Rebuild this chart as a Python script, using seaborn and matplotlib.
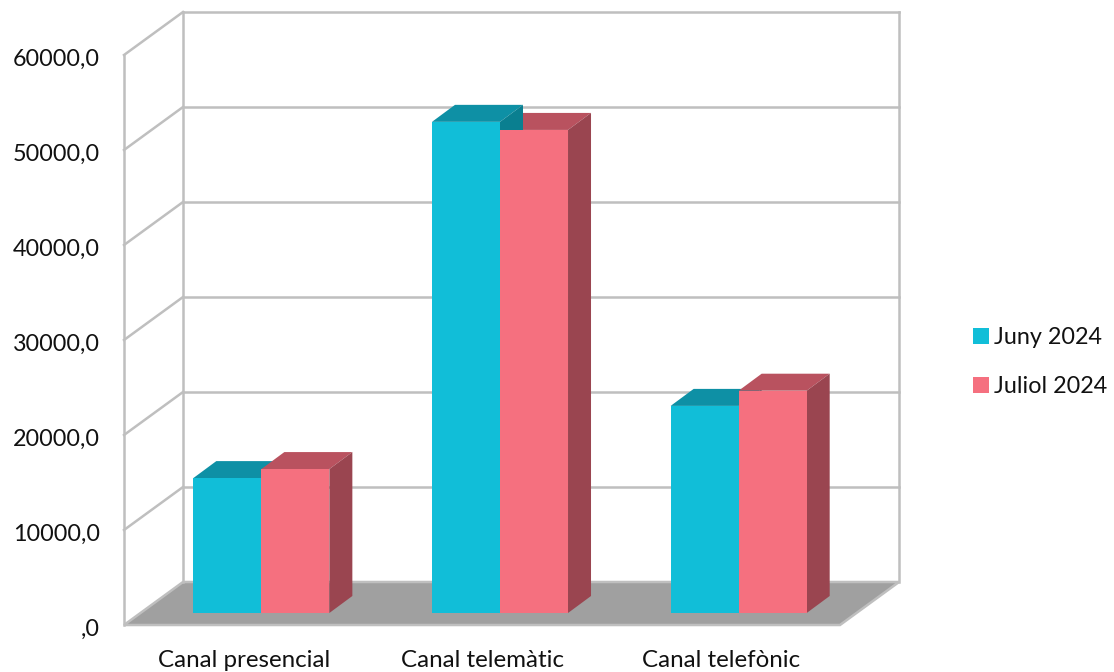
import matplotlib
matplotlib.use('Agg')
import matplotlib.pyplot as plt
from matplotlib.patches import Patch, Polygon
from matplotlib.transforms import ScaledTranslation
import pandas as pd
import seaborn as sns

categories = ['Canal presencial', 'Canal telemàtic', 'Canal telefònic']
juny = [14200, 51700, 21800]
juliol = [15150, 50850, 23400]
series_names = ['Juny 2024', 'Juliol 2024']
y_ticks = [0, 10000, 20000, 30000, 40000, 50000, 60000]
y_labels = [',0', '10000,0', '20000,0', '30000,0', '40000,0', '50000,0', '60000,0']

front_colors = ['#11BED8', '#F5707F']
top_colors = ['#0E90A5', '#B9525F']
side_colors = ['#0A7F90', '#9A4550']
grid_color = '#BFBFBF'

sns.set_theme(style='white')
plt.rcParams['font.family'] = ['Lato', 'DejaVu Sans']

W, H = 1114, 672
fig = plt.figure(figsize=(W / 100, H / 100), dpi=100)
ax = fig.add_axes([142 / W, (H - 613) / H, 716 / W, 570 / H])

df = pd.DataFrame({
    'canal': categories * 2,
    'valor': juny + juliol,
    'mes': [series_names[0]] * 3 + [series_names[1]] * 3,
})
sns.barplot(data=df, x='canal', y='valor', hue='mes', palette=front_colors,
            width=0.57, gap=0, dodge=True, saturation=1, legend=False, ax=ax)
ax.set_xlim(-0.5, 2.5)
ax.set_ylim(0, 60000)
ax.set_xlabel('')
ax.set_ylabel('')
for s in ax.spines.values():
    s.set_visible(False)

# size of one pixel in data units
px_x = 3 / 716
px_y = 60000 / 570


# move a point from the bar plane to the back wall or the front edge
def back(x, y):
    return x + 41 * px_x, y + 31 * px_y


def front(x, y):
    return x - 18 * px_x, y - 12 * px_y


def line(p, q, z=1):
    ax.plot([p[0], q[0]], [p[1], q[1]], color=grid_color, lw=1.8, zorder=z,
            clip_on=False, solid_capstyle='projecting')


# floor
x0, x1 = -0.5, 2.5
ax.add_patch(Polygon([front(x0, 0), front(x1, 0), back(x1, 0), back(x0, 0)],
                     closed=True, facecolor='#A0A0A0', edgecolor=grid_color,
                     lw=1.8, zorder=1, clip_on=False))

# walls and grid
for t in y_ticks:
    if t > 0:
        line(back(x0, t), back(x1, t))
        line(front(x0, t), back(x0, t))
line(back(x0, 0), back(x0, y_ticks[-1]))
line(back(x1, 0), back(x1, y_ticks[-1]))
line(front(x0, 0), front(x0, y_ticks[-1]))

# depth of the bars
dx = 23 * px_x
dy = 17 * px_y
for k, container in enumerate(ax.containers):
    for bar in container:
        bar.set_zorder(5)
        bar.set_linewidth(0)
        xa = bar.get_x()
        xb = xa + bar.get_width()
        h = bar.get_height()
        z = 3 + h / 100000
        ax.add_patch(Polygon([(xa, h), (xb, h), (xb + dx, h + dy), (xa + dx, h + dy)],
                             closed=True, facecolor=top_colors[k], lw=0, zorder=z, clip_on=False))
        ax.add_patch(Polygon([(xb, 0), (xb + dx, dy), (xb + dx, h + dy), (xb, h)],
                             closed=True, facecolor=side_colors[k], lw=0, zorder=z, clip_on=False))

# axis labels sit on the front edge, not on the bar plane
ax.set_yticks(y_ticks)
ax.set_yticklabels(y_labels)
ax.tick_params(axis='y', length=0, pad=30.2, labelsize=16.8, labelcolor='#111111')
ax.tick_params(axis='x', length=0, pad=26.5, labelsize=17.4, labelcolor='#111111')
shift_y = ScaledTranslation(0, -0.145, fig.dpi_scale_trans)
shift_x = ScaledTranslation(-0.175, 0, fig.dpi_scale_trans)
for lab in ax.get_yticklabels():
    lab.set_transform(lab.get_transform() + shift_y)
for lab in ax.get_xticklabels():
    lab.set_transform(lab.get_transform() + shift_x)

handles = [Patch(facecolor=c, lw=0) for c in front_colors]
fig.legend(handles, series_names, loc='center left', bbox_to_anchor=(966 / W, 1 - 362 / H),
           frameon=False, fontsize=16.8, handlelength=0.68, handleheight=0.68,
           handletextpad=0.22, labelspacing=1.22, labelcolor='#111111', borderpad=0.3, borderaxespad=0)

fig.savefig('out.png', dpi=100)
